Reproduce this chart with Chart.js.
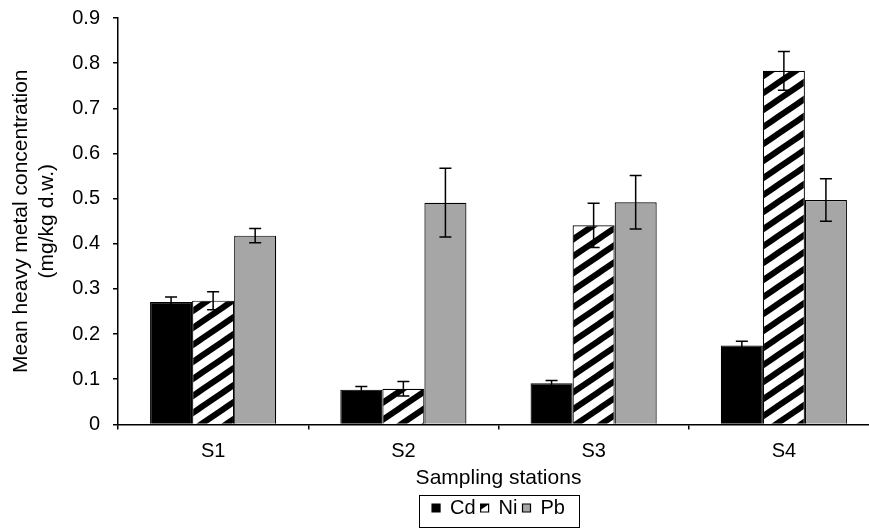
<!DOCTYPE html>
<html><head><meta charset="utf-8">
<script src="https://cdn.jsdelivr.net/npm/chart.js@4.4.1/dist/chart.umd.min.js"></script>
<style>
html,body{margin:0;padding:0;background:#fff;overflow:hidden;width:869px;height:528px}
#wrap{position:absolute;left:0;top:0;width:880px;height:528px}
</style></head>
<body><div id="wrap"><canvas id="c"></canvas></div>
<script>
const categories = ['S1', 'S2', 'S3', 'S4'];
const seriesNames = ['Cd', 'Ni', 'Pb'];
const cdValues = [0.271, 0.077, 0.091, 0.175];
const cdErrors = [0.011, 0.007, 0.006, 0.009];
const niValues = [0.274, 0.079, 0.441, 0.783];
const niErrors = [0.020, 0.016, 0.049, 0.043];
const pbValues = [0.418, 0.491, 0.492, 0.497];
const pbErrors = [0.016, 0.076, 0.059, 0.047];
const yTickLabels = ['0', '0.1', '0.2', '0.3', '0.4', '0.5', '0.6', '0.7', '0.8', '0.9'];

const FONT = "'Liberation Sans', Arial, sans-serif";

function makeHatch() {
  const W = 25, H = 17;
  const c = document.createElement('canvas');
  c.width = W; c.height = H;
  const x = c.getContext('2d');
  x.fillStyle = '#fff'; x.fillRect(0, 0, W, H);
  x.strokeStyle = '#000'; x.lineWidth = 6;
  x.beginPath();
  for (const o of [-1, 0, 1]) {
    x.moveTo(-W, 2 * H + o * H);
    x.lineTo(2 * W, -H + o * H);
  }
  x.stroke();
  return document.getElementById('c').getContext('2d').createPattern(c, 'repeat');
}
const hatch = makeHatch();

const errorBars = {
  id: 'errorBars',
  afterDatasetsDraw(chart) {
    const ctx = chart.ctx, y = chart.scales.y;
    chart.data.datasets.forEach((ds, i) => {
      const meta = chart.getDatasetMeta(i);
      meta.data.forEach((bar, j) => {
        const v = ds.data[j], e = ds.errors[j];
        const yt = y.getPixelForValue(v + e), yb = y.getPixelForValue(v - e);
        const x = bar.x;
        ctx.save();
        ctx.strokeStyle = '#000'; ctx.lineWidth = 1.5;
        ctx.beginPath();
        ctx.moveTo(x, yt); ctx.lineTo(x, yb);
        ctx.moveTo(x - 6, yt); ctx.lineTo(x + 6, yt);
        ctx.moveTo(x - 6, yb); ctx.lineTo(x + 6, yb);
        ctx.stroke();
        ctx.restore();
      });
    });
  }
};

const legendBorder = {
  id: 'legendBorder',
  afterDraw(chart) {
    const hb = chart.legend.legendHitBoxes;
    if (!hb || !hb.length) return;
    let x0 = Infinity, y0 = Infinity, x1 = -Infinity, y1 = -Infinity;
    hb.forEach(b => { x0 = Math.min(x0, b.left); y0 = Math.min(y0, b.top); x1 = Math.max(x1, b.left + b.width); y1 = Math.max(y1, b.top + b.height); });
    const ctx = chart.ctx;
    ctx.save();
    ctx.strokeStyle = '#000'; ctx.lineWidth = 1;
    const left = Math.round(x0 - 13) + 0.5, top = Math.round(y0 - 3) + 0.5;
    const right = Math.round(x1 + 14) + 0.5, bottom = Math.min(527.5, Math.round(y1 + 9) + 0.5);
    ctx.strokeRect(left, top, right - left, bottom - top);
    ctx.restore();
  }
};

new Chart(document.getElementById('c'), {
  type: 'bar',
  data: {
    labels: categories,
    datasets: [
      { label: seriesNames[0], data: cdValues, errors: cdErrors, backgroundColor: '#000000', borderColor: '#000', borderWidth: 1.2 },
      { label: seriesNames[1], data: niValues, errors: niErrors, backgroundColor: hatch, borderColor: '#000', borderWidth: 1.2 },
      { label: seriesNames[2], data: pbValues, errors: pbErrors, backgroundColor: '#a6a6a6', borderColor: '#000', borderWidth: 1.2 }
    ]
  },
  options: {
    responsive: true,
    maintainAspectRatio: false,
    animation: false,
    layout: { padding: { top: 18, right: 1, left: 0, bottom: 0 } },
    datasets: { bar: { categoryPercentage: 0.663, barPercentage: 1.0 } },
    plugins: {
      tooltip: { enabled: false },
      legend: {
        position: 'bottom',
        fullSize: false,
        labels: {
          boxWidth: 8, boxHeight: 8, padding: 5, color: '#000',
          font: { family: FONT, size: 20 }
        }
      }
    },
    scales: {
      x: {
        afterFit(s) { s.height = 68.6; },
        grid: { offset: true, drawOnChartArea: false, drawTicks: true, tickLength: 5, color: '#000', lineWidth: 1.5 },
        border: { display: true, color: '#000', width: 1.5 },
        ticks: { color: '#000', padding: 10, font: { family: FONT, size: 20 } },
        title: { display: true, text: 'Sampling stations', color: '#000', font: { family: FONT, size: 21 }, padding: { top: 0, bottom: 2 } }
      },
      y: {
        min: 0, max: 0.9,
        afterFit(s) { s.width = 118; s.paddingTop = 0; s.paddingBottom = 0; },
        grid: { drawOnChartArea: false, drawTicks: true, tickLength: 5, color: '#000', lineWidth: 1.5 },
        border: { display: true, color: '#000', width: 1.5 },
        ticks: { stepSize: 0.1, color: '#000', padding: 13, font: { family: FONT, size: 20 },
          callback: (v, i) => yTickLabels[i] },
        title: { display: true, text: ['Mean heavy metal concentration', '(mg/kg d.w.)'], color: '#000',
          font: { family: FONT, size: 21 }, padding: { top: 9, bottom: 0 } }
      }
    }
  },
  plugins: [errorBars, legendBorder]
});
</script>
</body></html>
